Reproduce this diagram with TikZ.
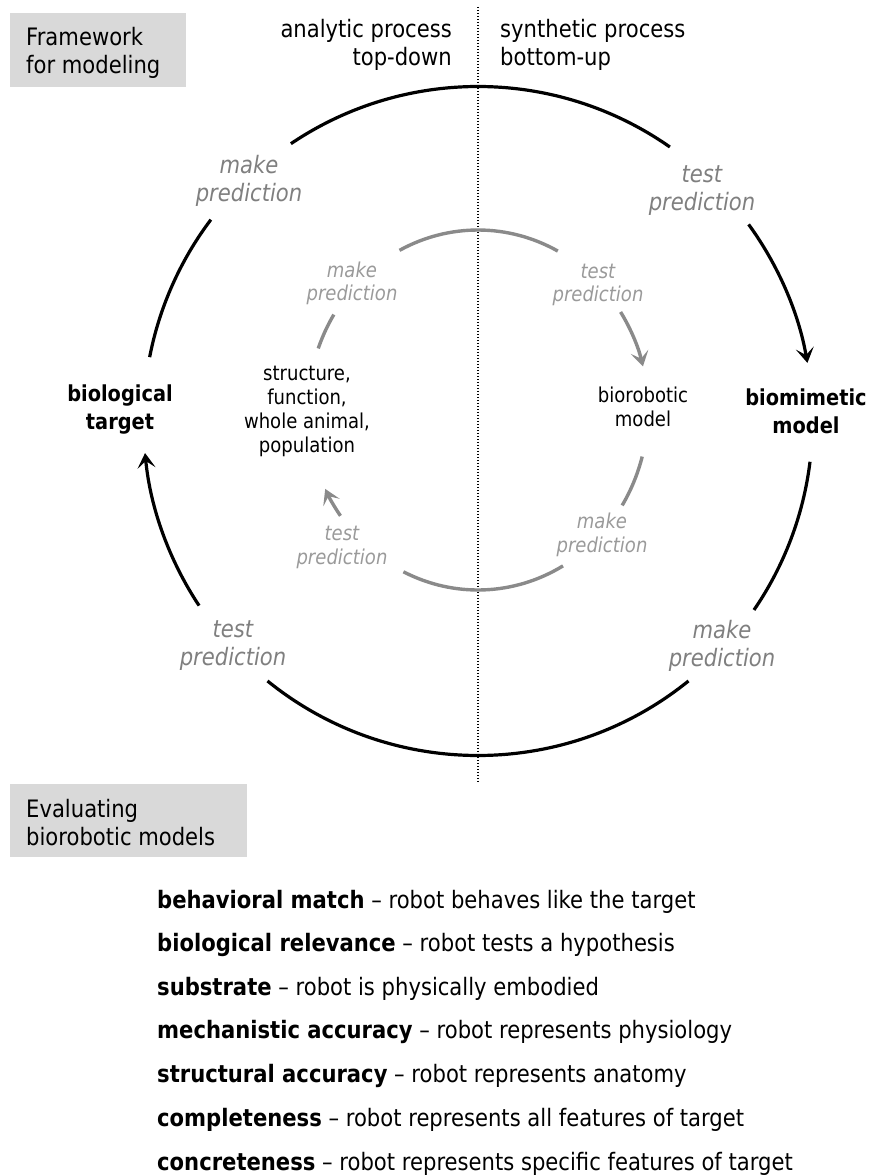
\documentclass[tikz,border=0pt]{standalone}
\usepackage{fontspec}
\setmainfont{DejaVu Sans}[FakeStretch=0.88]
\usetikzlibrary{arrows.meta}
\definecolor{boxgray}{HTML}{D9D9D9}
\definecolor{labelgray}{HTML}{7F7F7F}
\definecolor{softgray}{HTML}{9A9A9A}
\definecolor{arcgray}{HTML}{8A8A8A}

\begin{document}
\begin{tikzpicture}[x=10pt,y=10pt,
    outerarc/.style={line width=3.2pt},
    innerarc/.style={draw=arcgray,line width=3.4pt},
    arrowend/.style={-{Stealth[length=15pt,width=18pt,inset=7pt]}},
    headlbl/.style={font=\fontsize{24}{28}\selectfont,inner sep=0pt},
    boxtxt/.style={font=\fontsize{24}{28}\selectfont,align=left,inner sep=0pt},
    sidelbl/.style={font=\fontsize{22}{28}\selectfont\bfseries,align=center,inner sep=0pt},
    centerlbl/.style={font=\fontsize{20.5}{24}\selectfont,align=center,inner sep=0pt},
    outerlbl/.style={font=\fontsize{24}{28}\selectfont\itshape,text=labelgray,align=center,inner sep=0pt},
    innerlbl/.style={font=\fontsize{20.5}{23.5}\selectfont\itshape,text=softgray,align=center,inner sep=0pt},
    listtxt/.style={font=\fontsize{24}{26}\selectfont,anchor=base west,inner sep=0pt}]
  \useasboundingbox (-47.8,42.1) rectangle (39.4,-75.5);
  \coordinate (c) at (0,0);
  \coordinate (ci) at (0,1.1);

  % header boxes
  \fill[boxgray] (-46.8,40.8) rectangle (-29.2,33.4);
  \node[boxtxt,anchor=north west] (framehead) at (-45.2,39.4) {Framework\\for modeling};
  \fill[boxgray] (-46.8,-36.3) rectangle (-23.1,-43.6);
  \node[boxtxt,anchor=north west] (evalhead) at (-45.2,-37.8) {Evaluating\\biorobotic models};

  % the two halves
  \draw[line width=1.1pt,dash pattern=on 1.1pt off 1.9pt] (0,41.4) -- (0,-36.2);
  \node[headlbl,anchor=east,align=right] (analytic) at (-2.6,37.6) {analytic process\\top-down};
  \node[headlbl,anchor=west,align=left] (synthetic) at (2.2,37.6) {synthetic process\\bottom-up};

  % outer cycle
  \draw[outerarc] (c) ++(124:33.45) arc[start angle=124,end angle=55,radius=33.45];
  \draw[outerarc,arrowend] (c) ++(36:33.45) arc[start angle=36,end angle=10,radius=33.45];
  \draw[outerarc] (c) ++(-7:33.45) arc[start angle=-7,end angle=-34.4,radius=33.45];
  \draw[outerarc] (c) ++(-51:33.45) arc[start angle=-51,end angle=-129,radius=33.45];
  \draw[outerarc,arrowend] (c) ++(213.5:33.45) arc[start angle=213.5,end angle=185.5,radius=33.45];
  \draw[outerarc] (c) ++(169:33.45) arc[start angle=169,end angle=143,radius=33.45];

  \node[sidelbl] (biotarget) at (-35.8,1.1) {biological\\target};
  \node[sidelbl] (biomodel) at (32.8,1.0) {biomimetic\\model};
  \node[outerlbl] (mkTL) at (-22.9,24.0) {make\\prediction};
  \node[outerlbl] (tsTR) at (22.4,23.0) {test\\prediction};
  \node[outerlbl] (mkBR) at (24.4,-22.5) {make\\prediction};
  \node[outerlbl] (tsBL) at (-24.5,-22.5) {test\\prediction};

  % inner cycle
  \draw[innerarc] (ci) ++(117.5:17 and 18) arc[start angle=117.5,end angle=62,x radius=17,y radius=18];
  \draw[innerarc,arrowend] (ci) ++(33:17 and 18) arc[start angle=33,end angle=14,x radius=17,y radius=18];
  \draw[innerarc] (ci) ++(-15:17 and 18) arc[start angle=-15,end angle=-32,x radius=17,y radius=18];
  \draw[innerarc] (ci) ++(-60:17 and 18) arc[start angle=-60,end angle=-116,x radius=17,y radius=18];
  \draw[innerarc,arrowend] (ci) ++(216:17 and 18) arc[start angle=216,end angle=206,x radius=17,y radius=18];
  \draw[innerarc] (ci) ++(160:17 and 18) arc[start angle=160,end angle=148,x radius=17,y radius=18];

  \node[centerlbl] (levels) at (-17.1,1.0) {structure,\\function,\\whole animal,\\population};
  \node[centerlbl] (robomodel) at (16.5,1.45) {biorobotic\\model};
  \node[innerlbl] (mkIUL) at (-12.6,13.75) {make\\prediction};
  \node[innerlbl] (tsIUR) at (12.0,13.6) {test\\prediction};
  \node[innerlbl] (mkILR) at (12.4,-11.4) {make\\prediction};
  \node[innerlbl] (tsILL) at (-13.6,-12.65) {test\\prediction};

  % criteria
  \node[listtxt] (crit1) at (-32.1,-48.7) {\textbf{behavioral match} – robot behaves like the target};
  \node[listtxt] (crit2) at (-32.1,-53.0) {\textbf{biological relevance} – robot tests a hypothesis};
  \node[listtxt] (crit3) at (-32.1,-57.4) {\textbf{substrate} – robot is physically embodied};
  \node[listtxt] (crit4) at (-32.1,-61.7) {\textbf{mechanistic accuracy} – robot represents physiology};
  \node[listtxt] (crit5) at (-32.1,-66.1) {\textbf{structural accuracy} – robot represents anatomy};
  \node[listtxt] (crit6) at (-32.1,-70.5) {\textbf{completeness} – robot represents all features of target};
  \node[listtxt] (crit7) at (-32.1,-74.9) {\textbf{concreteness} – robot represents specific features of target};
\end{tikzpicture}
\end{document}
